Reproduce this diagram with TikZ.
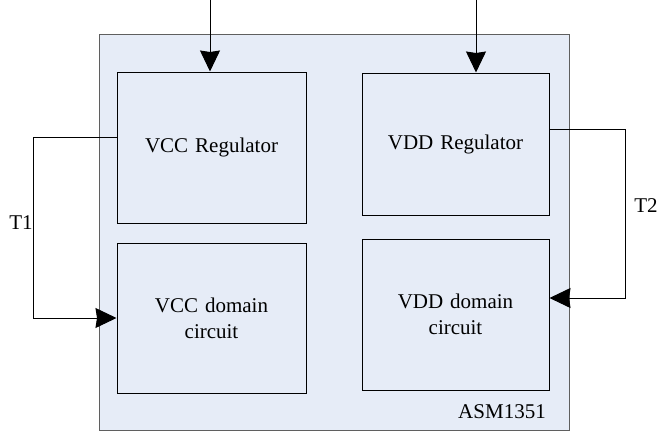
\documentclass[tikz,border=0pt]{standalone}
\usepackage{fontspec}
\setmainfont{Liberation Serif}
\usetikzlibrary{arrows.meta}
\definecolor{chipfill}{RGB}{230,236,247}
\definecolor{chipline}{RGB}{95,95,95}
\begin{document}
\begin{tikzpicture}[x=1pt, y=-1pt, every node/.style={rectangle}, text centered, line width=1pt,
	block/.style={draw=black, fill=chipfill, inner sep=0pt, font=\fontsize{21}{26}\selectfont},
	lbl/.style={inner sep=0pt, font=\fontsize{21}{24}\selectfont},
	feed/.style={-{Stealth[length=21pt, width=20pt, inset=1.5pt]}}]
	\useasboundingbox (0,0) rectangle (657,432);
	\node[draw=chipline, fill=chipfill, minimum width=470pt, minimum height=396pt] (chip) at (334, 232) {};
	\node[block, minimum width=189pt, minimum height=151pt, text width=180pt] (vccReg) at (211.5, 147.5) {VCC Regulator};
	\node[block, minimum width=189pt, minimum height=150pt, text width=180pt] (vccDom) at (211.5, 318) {VCC domain\\circuit};
	\node[block, minimum width=187pt, minimum height=142pt, text width=180pt] (vddReg) at (455.5, 144) {VDD Regulator};
	\node[block, minimum width=187pt, minimum height=151pt, text width=180pt] (vddDom) at (455.5, 314.5) {VDD domain\\circuit};
	\node[lbl] (chipText) at (502, 412) {ASM1351};
	\coordinate (vccIn) at (210, 0);
	\coordinate (vddIn) at (476, 0);
	\draw[feed] (vccIn) -- (vccIn |- vccReg.north);
	\draw[feed] (vddIn) -- (vddIn |- vddReg.north);
	\coordinate (t1) at (33, 137);
	\draw[feed] (vccReg.west |- t1) -- (t1) -- (t1 |- vccDom.west) -- (vccDom.west);
	\node[lbl] (t1Text) at (21, 223) {T1};
	\coordinate (t2a) at (625, 129);
	\coordinate (t2b) at (625, 298);
	\draw[feed] (vddReg.east |- t2a) -- (t2a) -- (t2b) -- (vddDom.east |- t2b);
	\node[lbl] (t2Text) at (646, 206) {T2};
\end{tikzpicture}
\end{document}
